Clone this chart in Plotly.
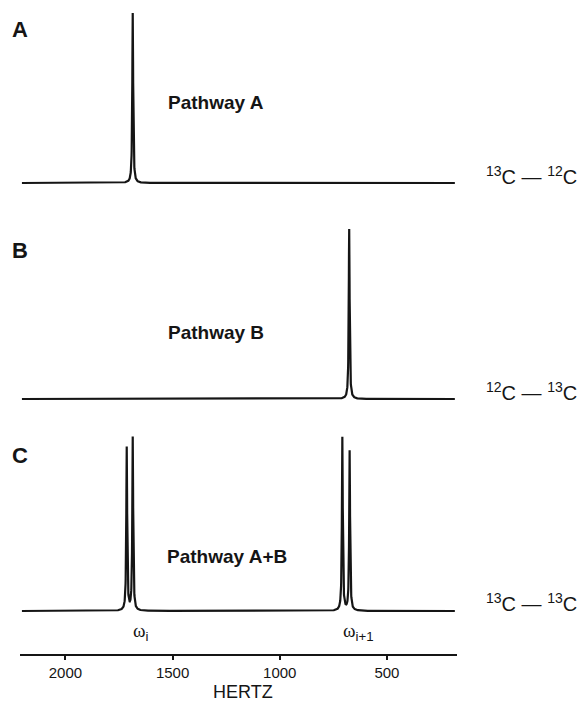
import numpy as np
import plotly.graph_objects as go

W, H = 577, 701

# ---- data ----
hz_start, hz_end = 2203, 183          # extent of the recorded spectra (Hz)
x_range = [2212, 173]                 # reversed frequency axis (Hz)
tick_vals = [2000, 1500, 1000, 500]
tick_text = ["2000", "1500", "1000", "500"]

peaks_A_hz = [1686]
peaks_A_height = [1.0]
peaks_B_hz = [676]
peaks_B_height = [1.0]
peaks_C_hz = [1714, 1686, 708, 674]
peaks_C_height = [0.96, 1.02, 1.02, 0.94]
hwhm_hz = 2.4                         # Lorentzian half-width

panel_letters = ["A", "B", "C"]
pathway_labels = ["Pathway A", "Pathway B", "Pathway A+B"]
isotope_labels = ["<sup>13</sup>C — <sup>12</sup>C",
                  "<sup>12</sup>C — <sup>13</sup>C",
                  "<sup>13</sup>C — <sup>13</sup>C"]
omega_subscripts = ["i", "i+1"]
omega_hz = [1696, 712]
axis_title = "HERTZ"

# ---- build spectra ----
hz = np.arange(hz_start, hz_end - 0.25, -0.5)


def spectrum(centers, heights):
    y = np.zeros_like(hz, dtype=float)
    for c, h in zip(centers, heights):
        y += h / (1.0 + ((hz - c) / hwhm_hz) ** 2)
    return y


spectra = [spectrum(peaks_A_hz, peaks_A_height),
           spectrum(peaks_B_hz, peaks_B_height),
           spectrum(peaks_C_hz, peaks_C_height)]

# ---- layout geometry (pixels) ----
unit_px = 170.0
panels = [(0, 195, 183), (212, 410, 399), (425, 654, 611)]  # top, bottom, baseline


def fy(p):
    return 1 - p / H


def fx(p):
    return p / W


INK = "#151515"
SANS = "Liberation Sans, Arial, sans-serif"
SERIF = "Liberation Serif, Times New Roman, serif"

fig = go.Figure()
ynames = ["y", "y2", "y3"]
for i, ys in enumerate(spectra):
    fig.add_trace(go.Scatter(x=hz, y=ys, mode="lines", xaxis="x", yaxis=ynames[i],
                             line=dict(color=INK, width=2.2), hoverinfo="skip",
                             showlegend=False))

layout_axes = {}
for i, (top, bot, base) in enumerate(panels):
    key = "yaxis" if i == 0 else f"yaxis{i+1}"
    layout_axes[key] = dict(domain=[fy(bot), fy(top)],
                            range=[-(bot - base) / unit_px, (base - top) / unit_px],
                            visible=False, fixedrange=True, anchor="x")

fig.update_layout(
    width=W, height=H,
    margin=dict(l=0, r=0, t=0, b=0),
    paper_bgcolor="white", plot_bgcolor="white",
    xaxis=dict(domain=[fx(20), fx(457)], range=x_range, anchor="y3",
               showgrid=False, zeroline=False, showline=True, linewidth=2,
               linecolor=INK, ticks="outside", ticklen=4, tickwidth=1.5,
               tickcolor=INK, tickvals=tick_vals, ticktext=tick_text,
               ticklabelstandoff=0,
               tickfont=dict(family=SANS, size=15, color=INK)),
    **layout_axes,
)

ann = []
letter_y = [29, 250, 455]
for t, yy in zip(panel_letters, letter_y):
    ann.append(dict(text=f"<b>{t}</b>", x=fx(20), y=fy(yy), xref="paper", yref="paper",
                    showarrow=False, xanchor="center", yanchor="middle",
                    font=dict(family=SANS, size=22, color=INK)))
path_pos = [(216, 102), (216, 332), (227, 556)]
for t, (xx, yy) in zip(pathway_labels, path_pos):
    ann.append(dict(text=f"<b>{t}</b>", x=fx(xx), y=fy(yy), xref="paper", yref="paper",
                    showarrow=False, xanchor="center", yanchor="middle",
                    font=dict(family=SANS, size=19, color=INK)))
iso_y = [176, 391, 602]
for t, yy in zip(isotope_labels, iso_y):
    ann.append(dict(text=t, x=fx(484), y=fy(yy), xref="paper", yref="paper",
                    showarrow=False, xanchor="left", yanchor="middle",
                    font=dict(family=SANS, size=20, color=INK)))
for s, xh in zip(omega_subscripts, omega_hz):
    txt = ("ω<sub><span style='font-family:Liberation Sans, Arial, sans-serif'>"
           f"{s}</span></sub>")
    ann.append(dict(text=txt, x=xh, y=fy(632), xref="x", yref="paper",
                    showarrow=False, xanchor="left", yanchor="middle",
                    font=dict(family=SERIF, size=19, color=INK)))
ann.append(dict(text=axis_title, x=fx(243), y=-3 / H, xref="paper", yref="paper",
                showarrow=False, xanchor="center", yanchor="bottom",
                font=dict(family=SANS, size=18, color=INK)))
fig.update_layout(annotations=ann)

fig.write_html("out.html", config={"displayModeBar": False})
